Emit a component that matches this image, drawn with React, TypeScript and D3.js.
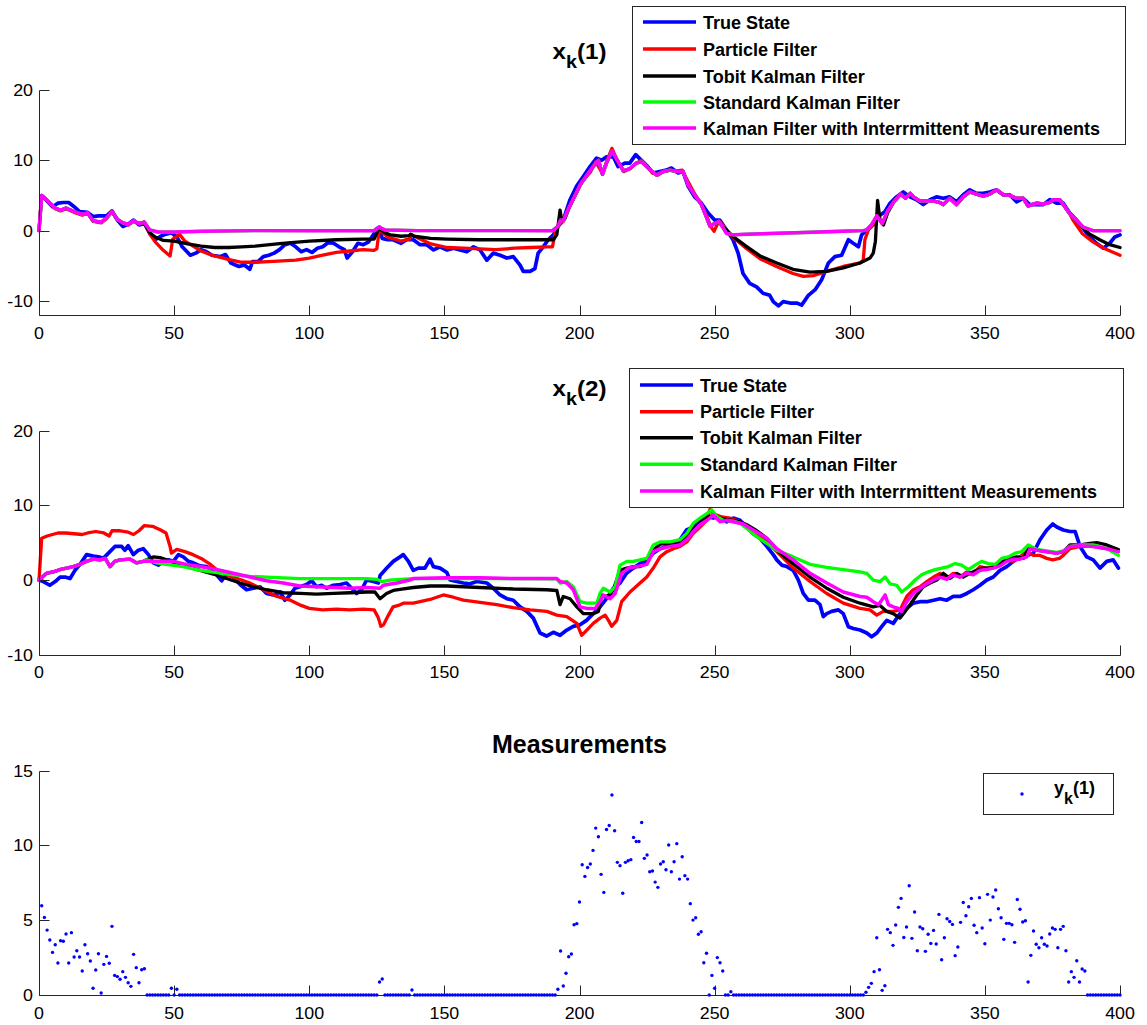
import React from 'react';
import * as d3 from 'd3';

type Pt = [number, number];

// ---------- shared axis values ----------
const xTicks = [0, 50, 100, 150, 200, 250, 300, 350, 400];
const stateTicks = [-10, 0, 10, 20];
const measTicks = [0, 5, 10, 15];

const legendNames = [
  'True State',
  'Particle Filter',
  'Tobit Kalman Filter',
  'Standard Kalman Filter',
  'Kalman Filter with Interrmittent Measurements',
];
const seriesColors = ['#0000ff', '#ff0000', '#000000', '#00ff00', '#ff00ff'];
const seriesWidths = [3.7, 3.3, 3.3, 3.3, 3.5];

const between = (arr: Pt[], a: number, b: number): Pt[] => arr.filter((p) => p[0] >= a && p[0] <= b);

// ---------- state x_k(1) ----------
const x1True: Pt[] = [
  [1, 4.9], [2, 4.6], [5, 3.4], [7, 3.9], [9, 4.0], [11, 4.0], [13, 3.4], [15, 2.7], [18, 2.6], [20, 2.0],
  [22, 2.1], [25, 2.1], [27, 2.8], [29, 1.5], [31, 0.6], [33, 0.9], [35, 1.5], [37, 0.8], [39, 1.0], [41, -0.4],
  [43, -1.3], [45, -0.8], [47, -0.5], [49, -0.3], [51, -0.9], [53, -2.3], [56, -3.5], [58, -3.2], [60, -2.7],
  [62, -3.0], [64, -3.5], [67, -3.7], [69, -3.4], [71, -4.6], [74, -5.1], [76, -4.9], [78, -5.5], [79, -4.4],
  [81, -4.4], [83, -3.7], [85, -3.5], [87, -3.2], [89, -2.7], [91, -2.0], [93, -1.8], [95, -2.3], [97, -3.0],
  [99, -2.7], [101, -3.1], [103, -2.5], [105, -2.3], [107, -1.7], [109, -1.8], [111, -2.3], [113, -2.7],
  [114, -3.9], [116, -3.0], [118, -1.8], [120, -2.0], [122, -1.6], [124, -0.4], [125, 0.3], [126, 0.5],
  [127, -1.1], [129, -1.3], [131, -1.3], [134, -1.8], [136, -1.3], [138.5, -1.3], [141, -2.0], [143.5, -2.0],
  [146, -2.75], [148.4, -2.3], [151, -2.75], [153.4, -2.5], [155.8, -2.75], [158.3, -3.0], [160.8, -2.3],
  [163.2, -2.75], [165.7, -4.2], [168.1, -3.2], [170.6, -3.5], [173.1, -3.9], [175.5, -3.7], [178, -4.9],
  [179.2, -5.8], [181.7, -5.8], [183.5, -5.4], [184.7, -3.2], [186.6, -2.3], [188.4, -1.3], [190.3, -0.6],
  [192.1, 0.6], [194, 1.5], [196.5, 4.4], [198.9, 6.3], [201.4, 7.7], [203.9, 9.1], [206.3, 10.3], [208.2, 10.0],
  [210, 10.5], [212.5, 10.5], [214.3, 9.1], [216.8, 9.6], [218.6, 9.6], [220.8, 10.8], [222.9, 10.0], [224.8, 9.3],
  [227.2, 8.2], [229.7, 8.4], [232.1, 8.6], [234, 8.9], [236.5, 8.2], [238.3, 8.4], [240.2, 6.3], [242.6, 4.8],
  [245.1, 3.9], [247.6, 2.5], [250, 1.5], [251.9, 1.5], [254.4, 0.1], [256.8, -1.3], [258.7, -3.2], [260.5, -6.1],
  [263, -7.5], [265.5, -8.0], [267.9, -8.9], [270.4, -9.2], [271.7, -10.1], [273.6, -10.7], [275.4, -10.1],
  [277.9, -10.3], [280.4, -10.3], [282.2, -10.6], [284.7, -9.2], [287.2, -8.4], [289.6, -7.0], [292.1, -4.6],
  [294.5, -3.7], [297, -3.5], [299.5, -1.3], [301.3, -1.8], [303.2, -2.3], [304.4, -0.6], [306.3, 0.1],
  [308.7, 1.0], [311.2, 2.2], [313, 2.7], [314.9, 3.9], [317.3, 4.8], [319.8, 5.5], [322.3, 4.8], [324.7, 4.4],
  [327.2, 3.7], [329.7, 4.4], [332.1, 4.8], [334.6, 4.6], [337, 4.8], [339.5, 4.1], [342, 5.1], [344.4, 5.8],
  [346.9, 5.3], [349.4, 5.3], [351.8, 5.5], [354.3, 5.8], [356.8, 5.1], [359.2, 5.1], [361.7, 4.1], [364.2, 4.6],
  [366.6, 3.7], [369.1, 3.7], [371.6, 3.7], [374, 4.4], [376.5, 3.9], [379, 3.9], [381.4, 2.5], [383.9, 1.5],
  [386.4, 0.3], [388.8, -0.9], [391.3, -1.8], [393.8, -2.5], [396.2, -1.8], [398.1, -0.9], [400, -0.6],
];

const x1Intermittent: Pt[] = [
  [0, 0], [1, 5.0], [3, 4.3], [6, 3.2], [8, 2.9], [10, 3.2], [13, 2.7], [16, 2.3], [18, 2.5], [20, 1.4],
  [23, 1.2], [25, 1.8], [27, 2.7], [29, 1.6], [31, 1.1], [33, 0.9], [35, 1.4], [37, 1.0], [39, 1.2], [41, 0.1],
  [44, -0.2], [50, -0.2], [60, -0.1], [80, 0.0], [100, 0.0], [124, 0.0], [125.8, 0.5], [128, 0.1], [140, 0.0],
  [190, 0.0], [192, 0.6], [193, 1.5], [194, 1.4], [196, 3.2], [199, 5.5], [200.2, 6.5], [202.6, 7.8], [205, 9.1],
  [207, 10.0], [208.5, 8.0], [210, 9.6], [212, 11.3], [214.3, 9.8], [216.2, 8.5], [218.6, 8.8], [221, 9.6],
  [223, 9.8], [225.4, 8.9], [228.5, 7.9], [231, 8.4], [233.5, 8.6], [236, 8.4], [238.3, 8.4], [240.2, 6.5],
  [242.6, 5.1], [245.1, 3.7], [247, 1.9], [248.3, 0.6], [249.5, 0.9], [251.6, 1.3], [252.8, 0.6], [254.4, -0.4],
  [257, -0.6], [262, -0.5], [280, -0.3], [300, -0.05], [305, 0.0], [306.3, 0.1], [308, 0.8], [310, 2.1],
  [312, 1.0], [313.9, 2.7], [316.3, 4.1], [318.8, 5.2], [320.6, 4.6], [322.4, 5.3], [323.6, 4.8], [326, 4.2],
  [328.5, 4.2], [331, 4.2], [333.4, 4.0], [334.6, 3.7], [337, 4.6], [339.5, 3.7], [342, 4.8], [344.4, 5.5],
  [346.9, 5.2], [349.4, 4.9], [351.8, 5.2], [354.3, 5.8], [356.8, 5.1], [359.2, 5.0], [361.7, 4.6], [364.2, 4.6],
  [366, 3.5], [369, 3.9], [371.6, 3.8], [374, 4.0], [375.3, 4.4], [377.7, 4.4], [379.6, 3.4], [381.4, 2.4],
  [383.9, 1.5], [386.4, 0.5], [390, 0.0], [400, 0.0],
];

// the standard filter coincides with the intermittent one for the first state
const x1Standard: Pt[] = x1Intermittent;

const x1Particle: Pt[] = [
  [0, 0], [1, 5.0], [3, 4.3], [6, 3.1], [8, 2.8], [10, 3.1], [13, 2.6], [16, 2.2], [18, 2.5], [20, 1.3], [23, 1.1],
  [25, 1.7], [27, 2.8], [29, 1.6], [31, 1.1], [33, 0.8], [35, 1.3], [37, 1.0], [39, 1.2], [41, -0.5], [43, -1.6],
  [46, -2.8], [48.5, -3.6], [49.5, -1.2], [51, -0.8], [52, -0.5], [54, -1.5], [57, -2.2], [60, -2.9], [64, -3.5],
  [70, -4.1], [75, -4.5], [80, -4.5], [85, -4.4], [90, -4.3], [95, -4.2], [100, -3.9], [105, -3.5], [110, -3.1],
  [115, -2.9], [120, -2.7], [124, -2.8], [125, -2.6], [126, 0.3], [127, -0.2], [129, -0.9], [134, -1.5],
  [137, -1.2], [138, -0.6], [140, -1.0], [145, -1.9], [151, -2.4], [157, -2.5], [163, -2.6], [169, -2.7],
  [176, -2.5], [182, -2.4], [188, -2.3], [190, -2.3], [190.5, -1.3], [191, -0.3], [192, 0.7], [194, 1.3],
  [196.5, 3.5], [199, 5.5], [201, 7.0], [204, 8.3], [206, 9.8], [208.5, 8.1], [210, 9.8], [212, 11.7], [214, 10.0],
  [216.5, 8.4], [219, 8.9], [221, 9.6], [223, 10.0], [225, 9.1], [227, 8.2], [229, 7.9], [231, 8.4], [233.5, 8.6],
  [236, 8.5], [238, 8.6], [240, 7.1], [242.5, 5.3], [245, 3.8], [247.3, 1.9], [248.5, 0.6], [249.8, -0.1],
  [251.6, 1.4], [253, 0.8], [254.4, 0.0], [257, -1.0], [262, -2.6], [266.8, -4.0], [272.9, -5.1], [279, -6.1],
  [282.8, -6.5], [286.5, -6.4], [291.4, -5.8], [297.6, -5.1], [303.8, -4.6], [305, -4.2], [305.6, -1.3],
  [306.9, 0.1], [309.3, 1.0], [310.5, 2.0], [312, 1.0], [314, 2.7],
  ...between(x1Intermittent, 316, 381.4),
  [382.6, 1.5], [386, -0.4], [390, -1.6], [394, -2.5], [400, -3.5],
];

const x1Tobit: Pt[] = [
  ...between(x1Intermittent, 0, 39),
  [41, -0.3], [43, -0.9], [46, -1.4], [50, -1.5], [55, -1.9], [60, -2.2], [65, -2.4], [70, -2.4], [75, -2.3],
  [80, -2.2], [90, -1.8], [100, -1.5], [110, -1.3], [120, -1.2], [124, -1.2], [125.8, 0.3], [128, -0.3],
  [130, -0.6], [134, -0.8], [137, -0.7], [137.5, -0.5], [138.7, -0.8], [144.9, -1.1], [151, -1.2], [163, -1.3],
  [176, -1.3], [190.3, -1.3], [191.6, -0.6], [192.8, 2.9], [193.4, 1.5], [194.6, 1.7],
  ...between(x1Intermittent, 196, 252.8),
  [254.4, 0.1], [257, -0.9], [262, -2.3], [266.8, -3.6], [273, -4.6], [279, -5.5], [285.3, -5.9], [291.4, -5.8],
  [297.6, -5.3], [303.8, -4.6], [307.5, -3.9], [308.7, -3.2], [309.5, -1.5], [310.3, 4.3], [311.2, 1.5],
  [312.5, 0.8], [314, 2.5],
  ...between(x1Intermittent, 316, 384),
  [386.4, 0.4], [388.8, -0.5], [392.5, -1.3], [396.2, -2.0], [400, -2.4],
];

// ---------- state x_k(2) ----------
const x2True: Pt[] = [
  [0, 0], [1.6, -0.2], [4, -0.7], [6, -0.2], [7.8, 0.4], [9.6, 0.4], [11.5, 0.2], [13.3, 1.3], [15.2, 2.1],
  [17.6, 3.4], [20.1, 3.2], [22, 3.1], [23.8, 2.9], [25.7, 3.6], [28.1, 4.5], [30.6, 4.5], [31.8, 4.0], [33, 4.6],
  [34.9, 3.4], [36.8, 4.0], [38.6, 4.2], [40.5, 3.4], [42.3, 2.3], [44.2, 2.0], [46, 2.5], [47.9, 2.7], [49.7, 2.5],
  [51.6, 3.4], [53.4, 3.1], [55.3, 2.5], [57.1, 2.3], [59.6, 1.9], [62, 1.8], [64.5, 1.3], [66.4, 0.4],
  [67.6, -0.1], [69.4, 0.8], [71.9, 0.4], [74.4, -0.6], [76.8, -1.3], [79.3, -1.1], [81.8, -0.9], [84.2, -1.8],
  [86.7, -2.0], [89.2, -1.6], [91, -2.7], [92.9, -2.0], [94.7, -1.1], [96.6, -0.9], [99, -0.6], [100.9, -0.1],
  [102.7, -0.9], [104.6, -0.7], [106.4, -1.1], [108.9, -0.7], [111.4, -0.6], [113.8, -0.4], [115.7, -1.1],
  [117.5, -1.8], [119.4, -1.3], [121.2, 0.0], [123.7, -0.2], [125.6, -0.4], [126.2, 0.6], [128.7, 1.6],
  [131.1, 2.5], [133.6, 3.1], [134.8, 3.4], [136.7, 2.5], [138.5, 1.3], [140.4, 1.6], [142.8, 1.6], [144.7, 2.8],
  [145.9, 1.8], [148.4, 1.6], [150.9, 1.0], [152.1, 0.0], [154.6, -0.2], [157, -0.4], [159.5, -0.5], [162, -0.2],
  [165.7, -0.4], [168.1, -1.1], [170.6, -2.0], [173.1, -2.5], [175.5, -2.7], [178, -3.6], [180.5, -4.2],
  [182.9, -5.1], [185.4, -7.1], [187.8, -7.5], [190.3, -7.0], [192.8, -7.4], [195.3, -6.7], [197.7, -6.2],
  [200.2, -6.0], [202.6, -5.4], [205.1, -4.5], [207.6, -3.6], [210, -2.5], [212.5, -1.1], [215, -0.4],
  [217.4, 0.9], [219.9, 1.6], [222.4, 2.2], [224.8, 2.7], [227.3, 3.6], [229.8, 4.2], [232.2, 4.5], [234.7, 4.7],
  [237.2, 5.4], [239.6, 6.7], [242.1, 7.1], [244.6, 7.8], [247, 8.5], [249.5, 8.3], [252, 8.5], [254.4, 7.8],
  [256.9, 8.3], [259.4, 8.0], [261.8, 7.1], [264.3, 6.2], [266.8, 5.6], [269.3, 4.5], [271.7, 3.4], [273, 2.7],
  [274.8, 2.0], [276.7, 1.8], [279.1, 1.3], [281, 0.0], [282.8, -1.8], [284.7, -2.7], [287.1, -2.7], [289, -3.3],
  [290.2, -4.9], [291.5, -4.5], [293.3, -4.2], [295.8, -4.0], [297.6, -4.5], [299.5, -6.25], [301.3, -6.5],
  [303.8, -6.7], [306.3, -7.1], [308.1, -7.6], [310, -7.1], [311.8, -6.25], [313.7, -5.4], [316.1, -5.8],
  [318.6, -4.5], [321.1, -3.8], [323.5, -3.1], [326, -2.9], [328.5, -2.9], [331, -2.7], [333.4, -2.5],
  [335.9, -2.7], [338.3, -2.2], [340.8, -2.2], [343.3, -1.8], [345.7, -1.3], [348.2, -0.7], [350.7, 0.0],
  [353.1, 0.4], [355.6, 1.3], [358.1, 1.8], [360.5, 2.5], [363, 3.1], [365.5, 3.3], [367.9, 3.6], [370.4, 5.4],
  [372.9, 6.7], [375.1, 7.5], [376.6, 7.1], [379, 6.7], [381.5, 6.5], [383.4, 6.5], [385.2, 4.5], [387.7, 3.1],
  [390.1, 2.7], [392.6, 1.6], [395.1, 2.5], [397.5, 2.7], [399.4, 1.6],
];

const x2Intermittent: Pt[] = [
  [0, 0], [2.8, 0.9], [5.3, 1.1], [7.8, 1.4], [10.2, 1.6], [12.7, 1.8], [15.2, 2.1], [17.6, 2.5], [20.1, 2.8],
  [22.6, 2.7], [24.5, 2.9], [26.3, 1.8], [28, 2.5], [30, 2.7], [33.7, 2.8], [36.1, 2.3], [38.6, 2.5], [43.5, 2.5],
  [49.7, 2.5], [54.6, 2.1], [59.6, 1.8], [65.7, 1.4], [71.9, 0.9], [78.1, 0.4], [84.2, -0.1], [90.4, -0.4],
  [96.6, -0.8], [102.7, -0.9], [108.9, -1.0], [115.1, -1.1], [121.2, -1.0], [126.2, -1.1], [127.4, -0.7],
  [132.4, -0.4], [137.3, 0.0], [138.5, 0.2], [150.9, 0.3], [163.2, 0.3], [175.5, 0.2], [191.6, 0.2],
  [192.8, -0.2], [195.3, -0.4], [197.7, -1.3], [200.2, -3.6], [202.7, -3.8], [205.8, -3.8], [207.6, -2.9],
  [208.8, -2.0], [211.3, -2.5], [213.2, -1.8], [215.6, 0.9], [218.1, 1.6], [221.2, 1.8], [224.9, 2.1],
  [227.3, 3.8], [229.8, 4.2], [233.5, 4.5], [237.2, 4.7], [239.7, 5.4], [242.1, 6.5], [244.6, 7.4], [247.1, 8.0],
  [249.5, 8.7], [252, 7.8], [254.5, 8.0], [256.9, 7.8], [260.6, 7.5], [264.3, 6.7], [269.3, 5.6], [273, 4.2],
  [279.1, 2.7], [285.3, 0.9], [291.5, -0.4], [297.6, -1.6], [303.8, -2.2], [306.3, -2.3], [308.7, -2.9],
  [310.6, -3.3], [311.8, -2.7], [313.1, -2.0], [314.3, -3.3], [316.1, -3.6], [318, -3.8], [319.2, -4.2],
  [321.1, -2.9], [323.5, -1.8], [326, -1.1], [328.5, -0.5], [331, 0.0], [333.4, 0.4], [335.9, 0.1], [338.3, 0.7],
  [340.8, 0.4], [343.3, 0.9], [345.7, 0.7], [348.2, 1.3], [350.7, 1.4], [353.1, 1.6], [355.6, 1.9], [358.1, 2.5],
  [360.5, 2.8], [363, 2.8], [365.5, 3.1], [366.7, 4.2], [369.2, 4.0], [372.9, 3.8], [376.6, 3.6], [379, 3.8],
  [381.5, 4.5], [385.2, 4.6], [390.1, 4.5], [395.1, 4.2], [399.4, 3.8],
];

const x2Particle: Pt[] = [
  [0, 0], [1, 5.6], [3, 5.9], [7, 6.3], [10, 6.3], [13, 6.2], [16, 6.1], [18, 6.3], [21, 6.5], [24, 6.3],
  [26, 5.9], [27, 6.6], [30, 6.6], [33, 6.4], [35, 6.1], [37, 6.6], [39, 7.3], [42, 7.2], [45, 6.7], [47, 6.3],
  [48.5, 4.5], [49, 3.6], [51, 4.1], [54, 3.8], [57, 3.4], [60, 2.9], [63, 2.2], [66, 1.3], [70, 0.6], [75, 0.0],
  [78, -0.4], [83, -1.3], [88, -2.2], [93, -2.7], [97, -3.4], [100, -3.8], [105, -4.0], [110, -3.9], [115, -4.0],
  [120, -3.9], [124, -4.0], [125.5, -5.0], [126.5, -6.2], [127.5, -6.0], [129, -4.9], [131, -3.6], [133, -3.4],
  [134.8, -3.1], [138.5, -3.1], [141, -2.9], [144.7, -2.6], [149.6, -2.0], [153.3, -2.3], [157, -2.7],
  [163.2, -3.0], [169.4, -3.3], [175.5, -3.7], [181.7, -4.0], [187.9, -4.2], [191.6, -4.7], [195.3, -4.9],
  [199, -5.8], [200.8, -7.4], [202.7, -6.7], [205.1, -5.8], [207.6, -5.1], [209.5, -4.7], [210.7, -5.4],
  [211.9, -6.2], [213.8, -5.4], [215.6, -2.9], [218.7, -1.6], [222.4, -0.4], [224.9, 0.4], [227.3, 1.6],
  [229.8, 3.1], [232.3, 3.8], [234.7, 4.2], [237.2, 4.5], [239.7, 5.1], [242.1, 6.25], [244.6, 7.1], [247.1, 8.0],
  [248.3, 9.5], [249.5, 8.9], [252, 8.5], [255.7, 8.3], [259.4, 7.8], [263.1, 6.9], [268, 5.6], [273, 3.8],
  [279.1, 1.6], [285.3, -0.2], [291.5, -1.8], [297.6, -3.1], [303.8, -3.8], [307.5, -4.0], [310, -4.7],
  [312.4, -4.2], [316.1, -4.2], [318.6, -4.0], [321.1, -2.2], [323.5, -1.3], [326, -0.9], [328.5, -0.2],
  [331, 0.4], [333.4, 0.9], [335.9, 0.2], [338.3, 0.9], [340.8, 0.4], [343.3, 1.1], [345.7, 0.9], [348.2, 1.8],
  [350.7, 1.6], [353.1, 1.8], [355.6, 2.0], [358.1, 2.7], [360.5, 2.5], [363, 3.1], [365.5, 3.8], [367.9, 3.3],
  [370.4, 3.3], [372.9, 2.9], [375.1, 2.7], [377.6, 2.9], [379, 3.3], [381.5, 4.2], [385.2, 4.5], [390.1, 4.5],
  [395.1, 4.2], [399.4, 3.8],
];

const x2Tobit: Pt[] = [
  ...between(x2Intermittent, 0, 38.6),
  [39.8, 2.7], [42.3, 3.1], [44.8, 3.0], [47.2, 2.7], [50.9, 2.2], [54.6, 1.8], [59.6, 1.3], [64.5, 0.8],
  [69.4, 0.2], [74.4, -0.4], [79.3, -0.9], [84.2, -1.3], [90.4, -1.7], [96.6, -1.8], [102.7, -1.9], [108.9, -1.8],
  [115.1, -1.7], [121.2, -1.6], [124.3, -1.6], [126.2, -2.5], [128.6, -1.8], [131.1, -1.4], [133.6, -1.25],
  [138.5, -1.0], [144.7, -0.8], [150.9, -0.8], [163.2, -1.0], [175.5, -1.2], [187.9, -1.3], [191.6, -1.4],
  [192.8, -3.3], [194, -2.2], [196.5, -2.5], [199, -3.6], [201.4, -4.5], [205.1, -4.5], [207, -4.2], [208.2, -2.0],
  [209.5, -2.2], [211.3, -2.0], [212.5, -1.3], [215, 1.3], [217.5, 1.6], [219.9, 1.8], [222.4, 1.8], [224.9, 2.2],
  [227.3, 4.0], [229.8, 4.8], [233.5, 4.9], [237.2, 5.1], [239.7, 5.8], [242.1, 6.7], [244.6, 7.6], [247.1, 8.5],
  [249.5, 8.6], [252, 8.3], [254.5, 8.1], [256.9, 8.0], [259.4, 7.8], [261.9, 7.4], [265.6, 6.6], [269.3, 5.6],
  [273, 4.0], [279.1, 2.2], [285.3, 0.4], [291.5, -1.1], [297.6, -2.3], [303.8, -3.1], [308.7, -3.6],
  [311.2, -3.4], [313.7, -4.2], [316.1, -4.5], [318.6, -5.1], [320.5, -4.2], [322.3, -3.3], [324.8, -2.0],
  [327.2, -0.9], [329.7, -0.4], [332.2, 0.0], [334.6, 0.9], [337.1, 0.2], [339.6, 0.9], [342, 0.4], [344.5, 0.9],
  [347, 1.3], [349.4, 1.6], [351.9, 1.6], [354.4, 1.8], [356.8, 2.5], [359.3, 2.9], [361.8, 3.1], [364.2, 2.9],
  [366.1, 4.2], [369.2, 4.0], [372.9, 3.8], [376.6, 3.6], [379, 3.8], [381.5, 4.7], [385.2, 4.7], [388.9, 4.9],
  [391.4, 5.0], [395.1, 4.7], [399.4, 4.1],
];

const x2Standard: Pt[] = [
  ...between(x2Intermittent, 0, 38.6),
  [39.8, 2.7], [43.5, 2.3], [47.2, 2.1], [53.4, 1.8], [59.6, 1.3], [65.7, 1.0], [71.9, 0.7], [78.1, 0.5],
  [84.2, 0.4], [90.4, 0.3], [96.6, 0.2], [108.9, 0.2], [121.2, 0.2], [125, 0.1], [126.9, -0.2], [129.9, 0.0],
  [133.6, 0.1], [138.5, 0.2], [163.2, 0.2], [191.6, 0.15], [192.8, -0.4], [195.3, -0.2], [197.7, -0.9],
  [200.2, -2.9], [202.7, -3.1], [206.4, -3.1], [207.6, -1.8], [208.8, -1.1], [211.3, -1.6], [213.2, -0.9],
  [215, 2.0], [217.5, 2.5], [219.9, 2.5], [222.4, 2.7], [224.9, 2.9], [227.3, 4.7], [229.8, 5.1], [233.5, 5.1],
  [237.2, 5.4], [239.7, 6.25], [242.1, 7.6], [244.6, 8.3], [247.1, 8.9], [248.9, 9.4], [250.8, 8.5], [253.2, 8.0],
  [256.9, 7.9], [259.4, 7.6], [261.9, 6.9], [265.6, 5.8], [269.3, 4.9], [273, 4.0], [279.1, 3.1], [285.3, 2.1],
  [291.5, 1.7], [297.6, 1.4], [303.8, 1.1], [306.3, 0.9], [308.7, 0.0], [311.2, -0.2], [313.1, 0.4],
  [314.9, -0.5], [317.4, -0.7], [319.2, -1.6], [321.7, -0.9], [324.2, 0.0], [326.6, 0.7], [329.1, 1.1],
  [331.6, 1.4], [334, 1.6], [336.5, 1.8], [339, 2.2], [341.4, 2.0], [343.9, 1.4], [346.4, 2.0], [348.8, 2.5],
  [351.3, 2.2], [353.8, 2.1], [356.2, 2.9], [358.7, 3.1], [361.2, 3.6], [363.6, 3.8], [366.1, 4.7], [369.2, 4.1],
  [372.9, 3.9], [376.6, 3.7], [379, 3.9], [381.5, 4.5], [385.2, 4.7], [390.1, 4.7], [395.1, 4.2], [399.4, 3.3],
];

// ---------- measurements y_k(1) ----------
// readings above the censoring limit; every other step reads exactly the limit
const CENSOR_LIMIT = 0;
const detectedReadings: Pt[] = [
  [1, 5.97], [2, 5.19], [3, 4.34], [4, 3.68], [5, 2.85], [6, 3.36], [7, 2.14], [8, 3.63], [9, 3.59], [10, 4.08],
  [11, 2.14], [12, 4.17], [13, 2.54], [14, 2.96], [15, 2.54], [16, 1.6], [17, 3.36], [18, 2.76], [19, 2.27],
  [20, 0.45], [21, 1.67], [22, 2.76], [23, 0.13], [24, 2.05], [25, 2.58], [26, 2.12], [27, 4.59], [28, 1.31],
  [29, 1.23], [30, 1.05], [31, 1.56], [32, 1.18], [33, 0.82], [34, 0.58], [35, 2.72], [36, 1.83], [37, 0.82],
  [38, 1.69], [39, 1.76], [49, 0.45], [51, 0.38], [126, 0.87], [127, 1.07], [138, 0.33],
  [192, 0.38], [193, 2.94], [194, 0.6], [195, 1.45], [196, 2.56], [197, 2.74], [198, 4.7], [199, 4.77],
  [200, 6.22], [201, 8.71], [202, 7.93], [203, 8.53], [204, 8.76], [205, 9.67], [206, 11.16], [207, 10.58],
  [208, 8.07], [209, 6.86], [210, 11.07], [211, 11.34], [212, 13.37], [213, 10.98], [214, 8.87], [215, 8.65],
  [216, 6.8], [217, 8.87], [218, 8.98], [219, 9.05], [220, 10.54], [221, 10.27], [222, 10.27], [223, 11.54],
  [224, 9.14], [225, 9.36], [226, 8.24], [227, 8.29], [228, 7.55], [229, 7.2], [230, 8.76], [231, 8.91],
  [232, 8.38], [233, 10.03], [234, 8.24], [235, 8.91], [236, 10.12], [237, 7.75], [238, 9.25], [239, 7.98],
  [240, 7.75], [241, 6.11], [242, 5.01], [243, 5.17], [244, 4.06], [245, 4.23], [246, 2.16], [247, 2.79],
  [249, 1.31], [250, 0.45], [251, 2.5], [252, 2.16], [253, 1.6], [256, 0.22],
  [306, 0.18], [307, 0.51], [308, 0.78], [309, 1.56], [310, 3.83], [311, 1.69], [312, 0.31], [313, 0.62],
  [314, 4.39], [315, 4.17], [316, 3.32], [317, 4.68], [318, 5.86], [319, 6.46], [320, 3.85], [321, 4.55],
  [322, 7.31], [323, 3.79], [324, 5.55], [325, 2.96], [326, 4.55], [327, 4.43], [328, 2.92], [329, 4.06],
  [330, 3.45], [331, 4.32], [332, 3.41], [333, 5.39], [334, 2.36], [335, 3.83], [336, 5.1], [337, 4.92],
  [338, 4.72], [339, 2.63], [340, 3.21], [341, 4.86], [342, 6.19], [343, 5.3], [344, 5.9], [345, 6.46],
  [346, 4.66], [347, 4.17], [348, 6.51], [349, 4.48], [350, 3.43], [351, 6.73], [352, 5.01], [353, 6.55],
  [354, 7.02], [355, 5.77], [356, 5.17], [357, 3.72], [358, 4.79], [359, 4.79], [360, 4.7], [361, 3.52],
  [362, 6.39], [363, 5.73], [364, 4.88], [365, 4.97], [366, 0.87], [367, 2.65], [368, 4.28], [369, 3.39],
  [370, 3.16], [371, 3.83], [372, 3.39], [373, 3.28], [374, 4.08], [375, 4.48], [376, 4.39], [377, 3.16],
  [378, 4.39], [379, 4.59], [380, 2.96], [381, 0.87], [382, 1.56], [383, 1.18], [384, 2.29], [385, 0.87],
  [386, 1.74], [387, 1.6],
];
const detectedMap = new Map<number, number>(detectedReadings);
const measurementSteps = d3.range(1, 401);
const measurements: Pt[] = measurementSteps.map((k) => [k, detectedMap.get(k) ?? CENSOR_LIMIT]);

// ---------- layout ----------
const W = 1147;
const H = 1025;
const FONT = '"Liberation Sans", Arial, Helvetica, sans-serif';
const AXIS = '#262626';

const x = d3.scaleLinear().domain([0, 400]).range([39, 1120]);

type PanelSpec = {
  y: d3.ScaleLinear<number, number>;
  ticks: number[];
};

function Axes({ y, ticks }: PanelSpec) {
  const [y0, y1] = y.range();
  const bottom = Math.round(y0) + 0.5;
  const left = Math.round(x(0)) + 0.5;
  return (
    <g fontFamily={FONT} fill="#000">
      <line x1={left} x2={Math.round(x(400)) + 0.5} y1={bottom} y2={bottom} stroke={AXIS} strokeWidth={1} />
      <line x1={left} x2={left} y1={bottom} y2={Math.round(y1) + 0.5} stroke={AXIS} strokeWidth={1} />
      {xTicks.map((t) => {
        const px = Math.round(x(t)) + 0.5;
        return (
          <g key={'x' + t}>
            <line x1={px} x2={px} y1={bottom} y2={bottom - 10} stroke={AXIS} strokeWidth={1} />
            <text transform={`translate(${x(t)},${y0 + 23.5}) scale(1.08,1)`} textAnchor="middle" fontSize={16.5}>
              {t}
            </text>
          </g>
        );
      })}
      {ticks.map((t) => {
        const py = Math.round(y(t)) + 0.5;
        return (
          <g key={'y' + t}>
            <line x1={left} x2={left + 10} y1={py} y2={py} stroke={AXIS} strokeWidth={1} />
            <text transform={`translate(33,${y(t) + 6}) scale(1.08,1)`} textAnchor="end" fontSize={16.5}>
              {t}
            </text>
          </g>
        );
      })}
    </g>
  );
}

function Lines({ y, series }: { y: d3.ScaleLinear<number, number>; series: Pt[][] }) {
  const line = d3
    .line<Pt>()
    .x((d) => x(d[0]))
    .y((d) => y(d[1]));
  return (
    <g fill="none" strokeLinejoin="round" strokeLinecap="round">
      {series.map((s, i) => (
        <path key={i} d={line(s) ?? ''} stroke={seriesColors[i]} strokeWidth={seriesWidths[i]} />
      ))}
    </g>
  );
}

function Legend({ left, top, right, bottom, rows }: { left: number; top: number; right: number; bottom: number; rows: number[] }) {
  return (
    <g fontFamily={FONT}>
      <rect x={left + 0.5} y={top + 0.5} width={right - left} height={bottom - top} fill="#fff" stroke={AXIS} strokeWidth={1} />
      {legendNames.map((name, i) => (
        <g key={name}>
          <line x1={left + 11} x2={left + 64} y1={rows[i]} y2={rows[i]} stroke={seriesColors[i]} strokeWidth={3.5} />
          <text x={left + 71} y={rows[i] + 6.5} fontSize={18} fontWeight="bold" fill="#000">
            {name}
          </text>
        </g>
      ))}
    </g>
  );
}

function StateTitle({ cx, baseline, index }: { cx: number; baseline: number; index: number }) {
  return (
    <text
      transform={`translate(${cx},${baseline}) scale(1.1,1)`}
      textAnchor="middle"
      fontFamily={FONT}
      fontWeight="bold"
      fontSize={22}
      fill="#000"
    >
      x
      <tspan fontSize={18} dy={9}>
        k
      </tspan>
      <tspan dy={-9}>({index})</tspan>
    </text>
  );
}

export default function App() {
  const y1 = d3.scaleLinear().domain([-12, 20]).range([315, 90]);
  const y2 = d3.scaleLinear().domain([-10, 20]).range([654.7, 430.7]);
  const y3 = d3.scaleLinear().domain([0, 15]).range([995, 770.7]);
  const cx = (x(0) + x(400)) / 2;

  return (
    <svg
      width={W}
      height={H}
      viewBox={`0 0 ${W} ${H}`}
      style={{ position: 'absolute', left: 0, top: 0, background: '#fff' }}
    >
      <rect width={W} height={H} fill="#fff" />

      {/* state 1 */}
      <Lines y={y1} series={[x1True, x1Particle, x1Tobit, x1Standard, x1Intermittent]} />
      <Axes y={y1} ticks={stateTicks} />
      <StateTitle cx={cx} baseline={59} index={1} />
      <Legend left={632} top={6} right={1125} bottom={144} rows={[22, 49, 76, 102, 128]} />

      {/* state 2 */}
      <Lines y={y2} series={[x2True, x2Particle, x2Tobit, x2Standard, x2Intermittent]} />
      <Axes y={y2} ticks={stateTicks} />
      <StateTitle cx={cx} baseline={396} index={2} />
      <Legend left={629} top={368} right={1123} bottom={507} rows={[385, 411.7, 437.7, 464.3, 491]} />

      {/* measurements */}
      <Axes y={y3} ticks={measTicks} />
      <g fill="#0000ff">
        {measurements.map(([k, v]) => (
          <circle key={k} cx={x(k)} cy={y3(v)} r={1.7} />
        ))}
      </g>
      <text x={cx} y={753} textAnchor="middle" fontFamily={FONT} fontWeight="bold" fontSize={25} fill="#000">
        Measurements
      </text>
      <g fontFamily={FONT}>
        <rect x={983.5} y={773.5} width={130} height={41} fill="#fff" stroke={AXIS} strokeWidth={1} />
        <circle cx={1022} cy={794} r={1.7} fill="#0000ff" />
        <text x={1054} y={794} fontSize={18} fontWeight="bold" fill="#000">
          y
          <tspan fontSize={16} dy={10}>
            k
          </tspan>
          <tspan dy={-10}>(1)</tspan>
        </text>
      </g>
    </svg>
  );
}
